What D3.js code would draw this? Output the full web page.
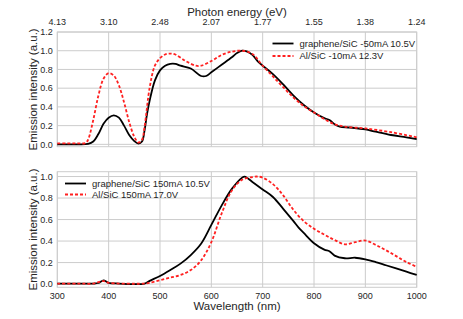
<!DOCTYPE html>
<html><head><meta charset="utf-8">
<script src="https://cdn.jsdelivr.net/npm/d3@7"></script>
<style>body{margin:0;background:#fff;}svg{display:block;font-family:"Liberation Sans",Arial,sans-serif;}</style>
</head><body><svg id="c" width="463" height="319"></svg>
<script>
const xTicks = [300,400,500,600,700,800,900,1000];
const energyLabels = ["4.13","3.10","2.48","2.07","1.77","1.55","1.38","1.24"];
const topYTicks = [0,0.2,0.4,0.6,0.8,1.0,1.2];
const botYTicks = [0,0.2,0.4,0.6,0.8,1.0];

const topGrapheneWl = [300,320,340,360,370,380,390,400,410,420,430,440,450,458,465,470,475,480,490,500,510,520,530,540,560,580,590,600,620,640,650,660,670,680,690,700,720,740,760,780,800,820,830,840,850,870,900,920,950,980,1000];
const topGrapheneVal = [0.0,0.0,0.0,0.005,0.03,0.11,0.22,0.285,0.31,0.285,0.2,0.1,0.035,0.008,0.03,0.15,0.33,0.47,0.68,0.79,0.84,0.86,0.86,0.84,0.81,0.73,0.73,0.77,0.85,0.93,0.975,1.0,0.99,0.955,0.89,0.84,0.75,0.64,0.52,0.42,0.34,0.28,0.26,0.215,0.19,0.18,0.16,0.135,0.10,0.075,0.055];
const topAlWl = [300,320,340,355,360,370,380,390,400,410,420,430,440,450,458,465,470,480,490,500,510,520,530,550,570,580,600,620,640,660,680,700,720,740,760,780,800,820,840,860,900,950,1000];
const topAlVal = [0.01,0.01,0.01,0.015,0.05,0.26,0.52,0.70,0.76,0.735,0.63,0.45,0.24,0.08,0.02,0.05,0.19,0.61,0.84,0.92,0.96,0.97,0.96,0.89,0.84,0.84,0.89,0.955,0.99,1.0,0.965,0.84,0.725,0.61,0.50,0.41,0.34,0.27,0.215,0.19,0.17,0.13,0.075];

const botGrapheneWl = [300,340,370,380,390,400,420,450,470,480,500,520,540,560,580,600,620,640,660,665,680,700,720,740,760,770,780,800,820,830,840,860,880,900,920,940,960,980,1000];
const botGrapheneVal = [0.005,0.005,0.005,0.01,0.035,0.012,0.005,0.0,0.005,0.03,0.075,0.13,0.19,0.27,0.375,0.55,0.73,0.885,0.99,1.0,0.95,0.88,0.81,0.70,0.585,0.525,0.475,0.38,0.32,0.305,0.265,0.24,0.245,0.23,0.205,0.175,0.145,0.115,0.085];
const botAlWl = [300,340,370,390,400,450,470,480,500,520,540,560,580,600,620,640,660,680,690,700,720,740,760,780,800,820,840,860,880,900,920,940,960,980,1000];
const botAlVal = [0.005,0.005,0.005,0.028,0.012,0.003,0.005,0.012,0.035,0.06,0.085,0.13,0.22,0.39,0.655,0.87,0.97,0.995,1.0,0.99,0.93,0.825,0.69,0.585,0.515,0.46,0.41,0.37,0.39,0.405,0.365,0.315,0.26,0.205,0.16];

const topLegend = ["graphene/SiC -50mA 10.5V","Al/SiC -10mA 12.3V"];
const botLegend = ["graphene/SiC 150mA 10.5V","Al/SiC 150mA 17.0V"];

const svg = d3.select("#c");
const L = 57.3, R = 416.7;
const x = d3.scaleLinear().domain([300,1000]).range([L,R]);
const grid = "#cccccc", txt = "#262626";

function panel(yDomain, yRange, yTicks, series, legend, legPos){
  const y = d3.scaleLinear().domain(yDomain).range(yRange);
  const g = svg.append("g");
  g.selectAll(".vx").data(xTicks).join("line")
    .attr("x1",d=>x(d)).attr("x2",d=>x(d)).attr("y1",yRange[0]).attr("y2",yRange[1])
    .attr("stroke",grid).attr("stroke-width",1);
  g.selectAll(".hy").data(yTicks).join("line")
    .attr("x1",L).attr("x2",R).attr("y1",d=>y(d)).attr("y2",d=>y(d))
    .attr("stroke",grid).attr("stroke-width",1);
  g.append("rect").attr("x",L).attr("y",yRange[1]).attr("width",R-L).attr("height",yRange[0]-yRange[1])
    .attr("fill","none").attr("stroke",grid).attr("stroke-width",1);
  g.selectAll(".yl").data(yTicks).join("text")
    .attr("x",L-4.5).attr("y",d=>y(d)).attr("dy","0.35em").attr("text-anchor","end")
    .attr("font-size",9).attr("fill",txt).text(d=>d3.format(".1f")(d));
  const line = d3.line().x(d=>x(d[0])).y(d=>y(d[1])).curve(d3.curveCatmullRom);
  series.forEach(s=>{
    const pts = s.wl.map((w,i)=>[w,s.v[i]]);
    g.append("path").attr("d",line(pts)).attr("fill","none")
      .attr("stroke",s.color).attr("stroke-width",1.8)
      .attr("stroke-dasharray",s.dash||null);
  });
  const cy = (yRange[0]+yRange[1])/2;
  g.append("text").attr("transform",`translate(37,${cy}) rotate(-90)`)
    .attr("text-anchor","middle").attr("font-size",11.5).attr("fill",txt)
    .text("Emission intensity (a.u.)");
  legend.forEach((t,i)=>{
    const yy = legPos.y + i*legPos.dy;
    g.append("line").attr("x1",legPos.x).attr("x2",legPos.x+21).attr("y1",yy).attr("y2",yy)
      .attr("stroke",series[i].color).attr("stroke-width",1.8).attr("stroke-dasharray",series[i].dash||null);
    g.append("text").attr("x",legPos.x+27).attr("y",yy).attr("dy","0.35em")
      .attr("font-size",9.5).attr("fill",txt).text(t);
  });
  return y;
}

panel([-0.025,1.2],[146.7,32],topYTicks,
  [{wl:topGrapheneWl,v:topGrapheneVal,color:"#000"},{wl:topAlWl,v:topAlVal,color:"#ff2020",dash:"3,2"}],
  topLegend,{x:272.5,y:43.5,dy:12.5});
panel([-0.03,1.045],[287.3,171.7],botYTicks,
  [{wl:botGrapheneWl,v:botGrapheneVal,color:"#000"},{wl:botAlWl,v:botAlVal,color:"#ff2020",dash:"3,2"}],
  botLegend,{x:65,y:183.5,dy:11});

svg.selectAll(".bx").data(xTicks).join("text")
  .attr("x",d=>x(d)).attr("y",296).attr("dy","0.35em").attr("text-anchor","middle")
  .attr("font-size",9).attr("fill",txt).text(d=>d);
svg.append("text").attr("x",(L+R)/2).attr("y",306).attr("dy","0.35em").attr("text-anchor","middle")
  .attr("font-size",11.5).attr("fill",txt).text("Wavelength (nm)");
svg.selectAll(".tx").data(xTicks).join("text")
  .attr("x",d=>x(d)).attr("y",21.5).attr("dy","0.35em").attr("text-anchor","middle")
  .attr("font-size",9).attr("fill",txt).text((d,i)=>energyLabels[i]);
svg.append("text").attr("x",(L+R)/2).attr("y",12).attr("dy","0.35em").attr("text-anchor","middle")
  .attr("font-size",11.5).attr("fill",txt).text("Photon energy (eV)");
</script></body></html>
